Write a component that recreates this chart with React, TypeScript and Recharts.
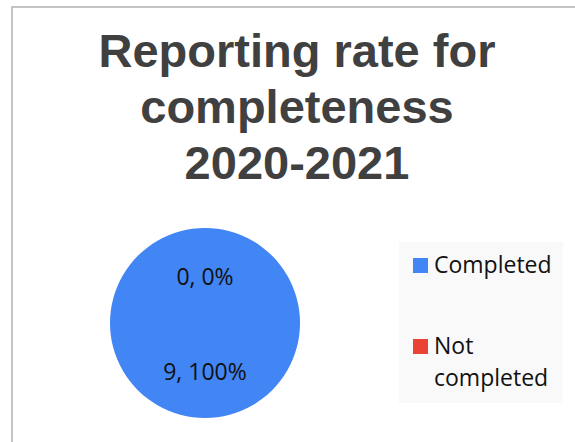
import { PieChart, Pie, Cell, Legend } from 'recharts';

const categories = ['Completed', 'Not completed'];
const counts = [9, 0];
const colors = ['#4285F4', '#EA4335'];
const titleLines = ['Reporting rate for', 'completeness', '2020-2021'];

const data = categories.map((name, i) => ({ name, value: counts[i] }));
const total = counts.reduce((a, b) => a + b, 0);

const RAD = Math.PI / 180;

function renderLabel(props: any) {
  const { cx, cy, midAngle, outerRadius, value } = props;
  const r = outerRadius * 0.5;
  const x = cx + r * Math.cos(-midAngle * RAD);
  const y = cy + r * Math.sin(-midAngle * RAD);
  const pct = total ? Math.round((value / total) * 100) : 0;
  return (
    <text x={x} y={y} textAnchor="middle" dominantBaseline="central"
      style={{ fontFamily: '"Open Sans", sans-serif', fontSize: 23, fill: '#111' }}>
      {`${value}, ${pct}%`}
    </text>
  );
}

function LegendBox({ payload }: any) {
  return (
    <div style={{ width: 164, height: 161, background: '#f9f9f9', position: 'relative',
      fontFamily: '"Open Sans", sans-serif', fontSize: 23, color: '#111' }}>
      {(payload || []).map((p: any, i: number) => (
        <div key={p.value} style={{ position: 'absolute', left: 14, top: i === 0 ? 10 : 91, display: 'flex' }}>
          <span style={{ width: 15, height: 15, background: p.color, marginTop: 6, marginRight: 6, flexShrink: 0 }} />
          <span style={{ lineHeight: '32px', marginTop: -4, width: 130 }}>{p.value}</span>
        </div>
      ))}
    </div>
  );
}

export default function App() {
  return (
    <div style={{ position: 'absolute', left: 0, top: 0, width: 575, height: 442, overflow: 'hidden', background: '#fff' }}>
      <div style={{ position: 'absolute', left: 11, top: 6, width: 620, height: 500,
        borderLeft: '2px solid #c4c4c4', borderTop: '2px solid #c4c4c4' }} />
      <div style={{ position: 'absolute', left: 0, top: 23, width: 594, textAlign: 'center',
        fontFamily: '"Liberation Sans", Arial, sans-serif', fontWeight: 'bold', fontSize: 47,
        lineHeight: '56px', color: '#404040' }}>
        {titleLines.map(l => <div key={l}>{l}</div>)}
      </div>
      <PieChart width={575} height={442} style={{ position: 'absolute', left: 0, top: 0 }}>
        <Pie data={data} dataKey="value" nameKey="name" cx={200} cy={318} outerRadius={95}
          startAngle={90} endAngle={-270} stroke="none" label={renderLabel} labelLine={false}
          isAnimationActive={false}>
          {data.map((d, i) => <Cell key={d.name} fill={colors[i]} />)}
        </Pie>
        <Legend layout="vertical" content={LegendBox}
          wrapperStyle={{ left: 399, top: 242, width: 164, height: 161 }} />
      </PieChart>
    </div>
  );
}
